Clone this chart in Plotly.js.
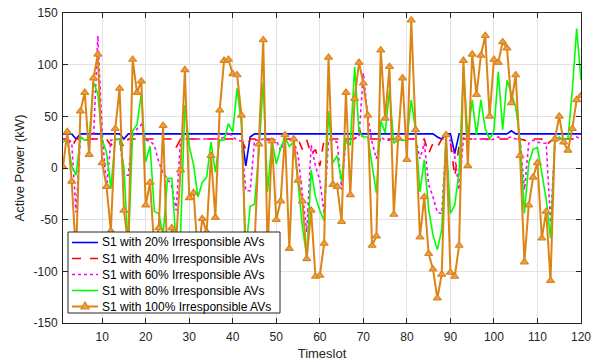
<!DOCTYPE html>
<html>
<head>
<meta charset="utf-8">
<script src="https://cdn.plot.ly/plotly-3.0.1.min.js"></script>
<style>html,body{margin:0;padding:0;background:#fff;}#chart{width:595px;height:362px;}</style>
</head>
<body>
<div id="chart"></div>
<script>
// Timeslots 1..120
const timeslots = Array.from({length: 120}, (_, i) => i + 1);

const seriesNames = [
  "S1 with 20% Irresponsible AVs",
  "S1 with 40% Irresponsible AVs",
  "S1 with 60% Irresponsible AVs",
  "S1 with 80% Irresponsible AVs",
  "S1 with 100% Irresponsible AVs"
];

// 20% irresponsible AVs
const s20 = [
  33,33,33,28,33,33,33,33,33,33, 33,33,33,33,28,33,33,33,33,33,
  33,33,33,33,33,33,33,33,33,33, 33,33,33,33,33,33,33,33,33,33,
  33,33,2,30,33,33,33,33,33,33, 33,33,33,33,33,33,33,33,33,33,
  33,33,33,33,33,33,33,33,33,33, 33,33,33,33,33,33,33,33,33,33,
  33,33,33,33,33,33,30,28,33,33, 14,33,33,33,33,33,33,33,33,33,
  33,33,33,36,33,33,33,33,33,33, 33,33,33,33,33,33,33,33,33,33
];

// 40% irresponsible AVs
const s40 = [
  28,28,20,28,28,28,28,28,28,28, 28,22,28,28,20,28,28,28,28,28,
  28,28,28,28,28,28,20,28,28,28, 28,28,28,28,28,28,28,28,28,28,
  28,28,18,28,28,28,28,28,28,28, 28,28,28,28,28,18,27,13,18,2,
  28,28,28,28,28,28,28,28,38,28, 28,28,28,28,28,28,28,28,28,28,
  28,28,26,28,14,24,20,28,28,25, -8,22,28,28,28,28,28,28,28,28,
  28,28,28,28,28,28,27,25,28,28, 28,22,26,28,28,28,28,28,28,28
];

// 60% irresponsible AVs
const s60 = [
  28,28,25,-43,30,27,28,28,128,35, -20,27,28,27,-7,-7,30,38,42,27,
  26,22,6,-5,-10,-18,-41,28,28,28, 28,28,28,28,28,28,28,30,35,30,
  27,26,-22,-22,27,27,28,27,28,27, 17,28,28,27,12,-25,-62,22,2,-12,
  -44,27,27,25,-21,27,28,29,30,92, 50,25,9,30,27,27,28,28,28,27,
  28,29,9,24,-16,-28,-43,-44,25,27, 11,-21,29,29,28,28,28,28,27,28,
  30,28,29,30,28,28,-21,24,27,25, 24,24,-53,25,28,28,28,28,30,28
];

// 80% irresponsible AVs
const s80 = [
  25,28,2,-7,30,27,27,83,72,27, 15,-20,28,28,0,-80,36,42,72,6,
  21,-42,-44,-65,-10,-10,-75,-65,61,21, 3,-28,-14,-9,25,-4,27,27,43,35,
  77,42,-80,-37,-35,15,83,-23,27,4, 19,30,21,25,-15,-57,-86,-2,-28,-41,
  -51,55,5,12,-13,29,22,98,35,30, 30,5,-24,46,34,75,24,27,27,27,
  66,37,-23,8,-40,-65,-79,-60,30,-44, -36,-3,97,30,66,32,66,38,28,36,
  93,37,85,72,59,27,-44,5,18,20, -6,-30,-68,27,30,27,28,75,135,85
];

// 100% irresponsible AVs
const s100 = [
  1,35,-13,-85,55,73,13,87,110,5, -18,-61,38,77,-41,-75,105,73,84,-36,
  -14,-80,-58,41,-95,-58,-70,-2,95,-29, -24,-85,-49,-62,12,-48,56,104,105,91,
  90,51,-95,-110,-75,23,124,-80,26,-50, -32,32,-78,28,-12,-32,-88,-41,-105,-104,
  -73,107,-16,-18,-52,73,-26,67,102,82, 51,-75,-66,114,48,98,-45,29,87,8,
  143,37,-67,-28,-83,-98,-126,-103,32,-101, -105,-75,104,2,110,71,109,128,50,105,
  102,122,116,63,90,12,-91,-36,-9,5, -68,-42,-109,28,50,25,17,38,66,70
];

const xTicks = [10,20,30,40,50,60,70,80,90,100,110,120];
const yTicks = [-150,-100,-50,0,50,100,150];

const font = "'Liberation Sans', Arial, Helvetica, sans-serif";
const dark = "#262626";

const styles = [
  {color: "#0000FF", width: 1.6, dash: "solid"},
  {color: "#FF0000", width: 1.6, dash: "dash"},
  {color: "#FF00FF", width: 1.6, dash: "dot"},
  {color: "#00FF00", width: 1.6, dash: "solid"},
  {color: "#DD8416", width: 2, dash: "solid"}
];
const seriesData = [s20, s40, s60, s80, s100];

const traces = seriesData.map((ys, i) => {
  const t = {x: timeslots, y: ys, name: seriesNames[i], mode: "lines", line: styles[i], showlegend: false};
  if (i === 4) {
    t.mode = "lines+markers";
    t.marker = {symbol: "triangle-up", size: 7, color: "#E8A050", line: {color: "#DD8416", width: 1.2}};
  }
  return t;
});

// ---- Legend drawn as a compact MATLAB-style box (layout decoration) ----
const W = 595, H = 362;
const M = {l: 63, r: 14, t: 13, b: 39};
const PW = W - M.l - M.r, PH = H - M.t - M.b;
const px2x = p => (p - M.l) / PW;
const py2y = p => (H - M.b - p) / PH;

const box = {x0: 68, x1: 280, y0: 232, y1: 313};
const rowY0 = 242.5, rowStep = 16;
const sampleX0 = 72, sampleX1 = 98, textX = 100;

const shapes = [{
  type: "rect", xref: "paper", yref: "paper", layer: "above",
  x0: px2x(box.x0), x1: px2x(box.x1), y0: py2y(box.y1), y1: py2y(box.y0),
  fillcolor: "#ffffff", line: {color: dark, width: 1}
}];
const annotations = [];
seriesNames.forEach((nm, i) => {
  const cy = rowY0 + i * rowStep;
  shapes.push({
    type: "line", xref: "paper", yref: "paper", layer: "above",
    x0: px2x(sampleX0), x1: px2x(sampleX1), y0: py2y(cy), y1: py2y(cy),
    line: {color: styles[i].color, width: styles[i].width, dash: styles[i].dash}
  });
  annotations.push({
    xref: "paper", yref: "paper", x: px2x(textX), y: py2y(cy),
    xanchor: "left", yanchor: "middle", showarrow: false,
    text: nm, font: {family: font, size: 12, color: "#000"}
  });
});
// triangle symbol for the 100% entry
(function () {
  const cy = rowY0 + 4 * rowStep, cx = (sampleX0 + sampleX1) / 2;
  const p = [[cx, cy - 4.5], [cx - 4, cy + 2.5], [cx + 4, cy + 2.5]]
    .map(([a, b]) => px2x(a).toFixed(5) + "," + py2y(b).toFixed(5));
  shapes.push({
    type: "path", xref: "paper", yref: "paper", layer: "above",
    path: "M" + p[0] + " L" + p[1] + " L" + p[2] + " Z",
    fillcolor: "#E8A050", line: {color: "#DD8416", width: 1.2}
  });
})();

const layout = {
  width: W, height: H,
  margin: M,
  paper_bgcolor: "#ffffff", plot_bgcolor: "#ffffff",
  font: {family: font, size: 12, color: dark},
  showlegend: false,
  shapes: shapes,
  annotations: annotations,
  xaxis: {
    range: [1, 120], tickvals: xTicks, ticktext: xTicks.map(String),
    ticks: "inside", ticklen: 5, tickcolor: dark,
    showgrid: true, gridcolor: "#e2e2e2", gridwidth: 1,
    showline: true, linecolor: dark, linewidth: 1, mirror: "ticks",
    zeroline: false, ticklabelstandoff: 3,
    tickfont: {family: font, size: 12, color: dark},
    title: {text: "Timeslot", font: {family: font, size: 13, color: dark}, standoff: 5}
  },
  yaxis: {
    range: [-150, 150], tickvals: yTicks, ticktext: yTicks.map(String),
    ticks: "inside", ticklen: 5, tickcolor: dark,
    showgrid: true, gridcolor: "#e2e2e2", gridwidth: 1,
    showline: true, linecolor: dark, linewidth: 1, mirror: "ticks",
    zeroline: false, ticklabelstandoff: 2,
    tickfont: {family: font, size: 12, color: dark},
    title: {text: "Active Power (kW)", font: {family: font, size: 13, color: dark}, standoff: 6}
  }
};

Plotly.newPlot("chart", traces, layout, {displayModeBar: false, staticPlot: true});
</script>
</body>
</html>
